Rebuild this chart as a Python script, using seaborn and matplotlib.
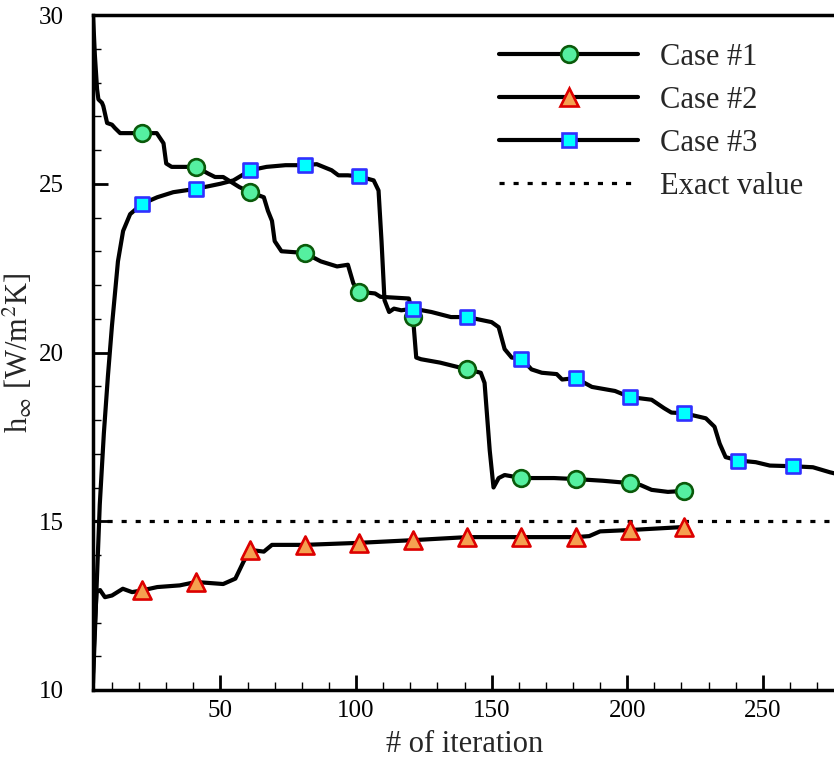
import matplotlib
matplotlib.use("Agg")
import matplotlib.pyplot as plt
from matplotlib.lines import Line2D
from matplotlib.ticker import MultipleLocator
import seaborn as sns
import pandas as pd

# ---------------- data ----------------
case1_x = [3, 3.7, 4.5, 5, 6.3, 6.8, 8.2, 10, 11.1, 13, 21, 26.5, 29, 30, 32, 41, 45.5, 48, 51, 57,
           61, 66, 67.5, 69, 70, 72.5, 81, 87, 93, 97, 99, 101, 107, 109, 119.5, 121, 122.2, 124, 131,
           136, 141, 146, 147.4, 149.3, 150.7, 152.6, 154.8, 161, 173, 181, 191, 201, 205, 209, 215,
           221, 222]
case1_y = [30.0, 28.8, 27.8, 27.5, 27.4, 27.3, 26.8, 26.75, 26.65, 26.5, 26.5, 26.5, 26.2, 25.6, 25.5,
           25.5, 25.3, 25.2, 25.2, 24.9, 24.75, 24.6, 24.2, 23.9, 23.3, 23.0, 22.95, 22.7, 22.55, 22.6,
           22.05, 21.8, 21.75, 21.65, 21.6, 21.05, 19.85, 19.8, 19.7, 19.6, 19.5, 19.4, 19.1, 17.1,
           16.0, 16.28, 16.37, 16.28, 16.28, 16.25, 16.2, 16.13, 16.07, 15.93, 15.87, 15.9, 15.88]

case2_x = [3, 3.5, 4.3, 5.6, 7.4, 10, 14, 17.4, 21, 26.7, 35, 41, 51, 55.5, 58.5, 61, 66, 69, 72.5,
           81, 101, 121, 141, 161, 181, 186, 190, 201, 221, 222]
case2_y = [10.5, 11.6, 12.9, 12.96, 12.75, 12.8, 13.0, 12.9, 12.95, 13.05, 13.1, 13.2, 13.14, 13.3,
           13.8, 14.15, 14.1, 14.3, 14.3, 14.3, 14.36, 14.44, 14.53, 14.53, 14.53, 14.56, 14.7, 14.74,
           14.83, 14.83]

case3_x = [3, 4.3, 5.5, 7, 8.5, 10, 12.2, 14.1, 16.7, 21, 26.7, 32.6, 41, 50, 54.8, 61, 67, 74, 81,
           85.5, 91, 93.5, 97, 101, 106.5, 108.3, 109.4, 110.5, 112.2, 114, 116.7, 121, 127.8, 135,
           141, 150, 152.6, 154.8, 157.4, 161, 164.7, 168.5, 174, 176, 181, 187, 195.5, 201, 209,
           213.6, 216.3, 221, 229, 232.2, 234.1, 236.3, 241, 247.4, 252.6, 261, 268.5, 274.8, 280]
case3_y = [10.2, 13.0, 15.5, 17.6, 19.3, 20.8, 22.7, 23.6, 24.1, 24.4, 24.6, 24.75, 24.85, 25.0, 25.1,
           25.4, 25.5, 25.55, 25.55, 25.58, 25.4, 25.25, 25.25, 25.22, 25.1, 24.8, 23.3, 21.55, 21.2,
           21.3, 21.25, 21.3, 21.2, 21.05, 21.05, 20.9, 20.75, 20.1, 19.85, 19.82, 19.5, 19.4, 19.36,
           19.2, 19.24, 18.98, 18.86, 18.68, 18.6, 18.35, 18.22, 18.2, 18.05, 17.8, 17.3, 16.9, 16.8,
           16.75, 16.65, 16.63, 16.6, 16.45, 16.35]

mark_iter = [21, 41, 61, 81, 101, 121, 141, 161, 181, 201, 221]
mark_iter3 = [21, 41, 61, 81, 101, 121, 141, 161, 181, 201, 221, 241, 261]
mark1_y = [26.5, 25.5, 24.75, 22.95, 21.8, 21.05, 19.5, 16.28, 16.25, 16.13, 15.9]
mark2_y = [12.95, 13.2, 14.15, 14.3, 14.36, 14.44, 14.53, 14.53, 14.53, 14.74, 14.83]
mark3_y = [24.4, 24.85, 25.4, 25.55, 25.22, 21.3, 21.05, 19.82, 19.24, 18.68, 18.2, 16.8, 16.63]

exact_value = 15
iter_range = [3, 280]

labels = ["Case #1", "Case #2", "Case #3", "Exact value"]
x_ticks = [50, 100, 150, 200, 250]
y_ticks = [10, 15, 20, 25, 30]

# ---------------- style ----------------
sns.set_theme(style="ticks")
plt.rcParams["font.family"] = ["Liberation Serif", "DejaVu Serif"]
plt.rcParams["mathtext.fontset"] = "stix"

fig = plt.figure(figsize=(8.34, 7.66), dpi=100)
ax = fig.add_axes([93 / 834, 76 / 766, 743 / 834, 675 / 766])

styles = [
    dict(marker="o", s=12 ** 2, fc="#55F0A0", ec="#0A5A0A", lw=1.9),
    dict(marker="^", s=13 ** 2, fc="#F5A050", ec="#DD0000", lw=1.9),
    dict(marker="s", s=10.5 ** 2, fc="#00FFFF", ec="#3030FF", lw=1.9),
]

series = [
    (case1_x, case1_y, mark_iter, mark1_y),
    (case2_x, case2_y, mark_iter, mark2_y),
    (case3_x, case3_y, mark_iter3, mark3_y),
]

z = 3
for (lx, ly, mx, my), st in zip(series, styles):
    df_line = pd.DataFrame({"iter": lx, "h": ly})
    df_mark = pd.DataFrame({"iter": mx, "h": my})
    sns.lineplot(data=df_line, x="iter", y="h", ax=ax, color="black", linewidth=3,
                 estimator=None, sort=False, zorder=z, legend=False)
    sns.scatterplot(data=df_mark, x="iter", y="h", ax=ax, marker=st["marker"], s=st["s"],
                    facecolor=st["fc"], edgecolor=st["ec"], linewidth=st["lw"],
                    zorder=z + 0.5, legend=False)
    z += 1

df_exact = pd.DataFrame({"iter": iter_range, "h": [exact_value, exact_value]})
sns.lineplot(data=df_exact, x="iter", y="h", ax=ax, color="black", linewidth=2.3,
             linestyle=(0, (1.6, 2.8)), zorder=2, legend=False)

ax.set_xlim(3, 277)
ax.set_ylim(10, 30)
ax.set_xticks(x_ticks)
ax.set_yticks(y_ticks)
ax.xaxis.set_minor_locator(MultipleLocator(10))
ax.yaxis.set_minor_locator(MultipleLocator(1))
ax.tick_params(axis="both", which="major", direction="in", length=10.8, width=2.0,
               labelsize=18, color="black", labelcolor="black")
ax.tick_params(axis="both", which="minor", direction="in", length=5.8, width=1.0, color="black")
ax.tick_params(axis="y", which="major", pad=21)
ax.tick_params(axis="x", which="major", pad=7)
ax.tick_params(top=False, right=False, which="both")

for side in ["left", "bottom", "top", "right"]:
    ax.spines[side].set_linewidth(2.5)
    ax.spines[side].set_color("black")

ax.set_xlabel("# of iteration", fontsize=22, labelpad=6)
ax.set_ylabel(r"h$_\infty$ [W/m$^2$K]", fontsize=22)
ax.yaxis.set_label_coords(-0.079, 0.5)

handles = []
for st in styles:
    handles.append(Line2D([], [], color="black", linewidth=3, marker=st["marker"],
                          markersize=st["s"] ** 0.5, markerfacecolor=st["fc"],
                          markeredgecolor=st["ec"], markeredgewidth=st["lw"]))
handles.append(Line2D([], [], color="black", linewidth=2.3, linestyle=(0, (1.6, 2.8))))

fig.legend(handles, labels, loc="upper left", bbox_to_anchor=(499 / 834, 1 - 43 / 766),
           frameon=False, fontsize=22, handlelength=4.55, handletextpad=0.72,
           labelspacing=0.46, borderpad=0, borderaxespad=0)

fig.savefig("out.png", dpi=100)
